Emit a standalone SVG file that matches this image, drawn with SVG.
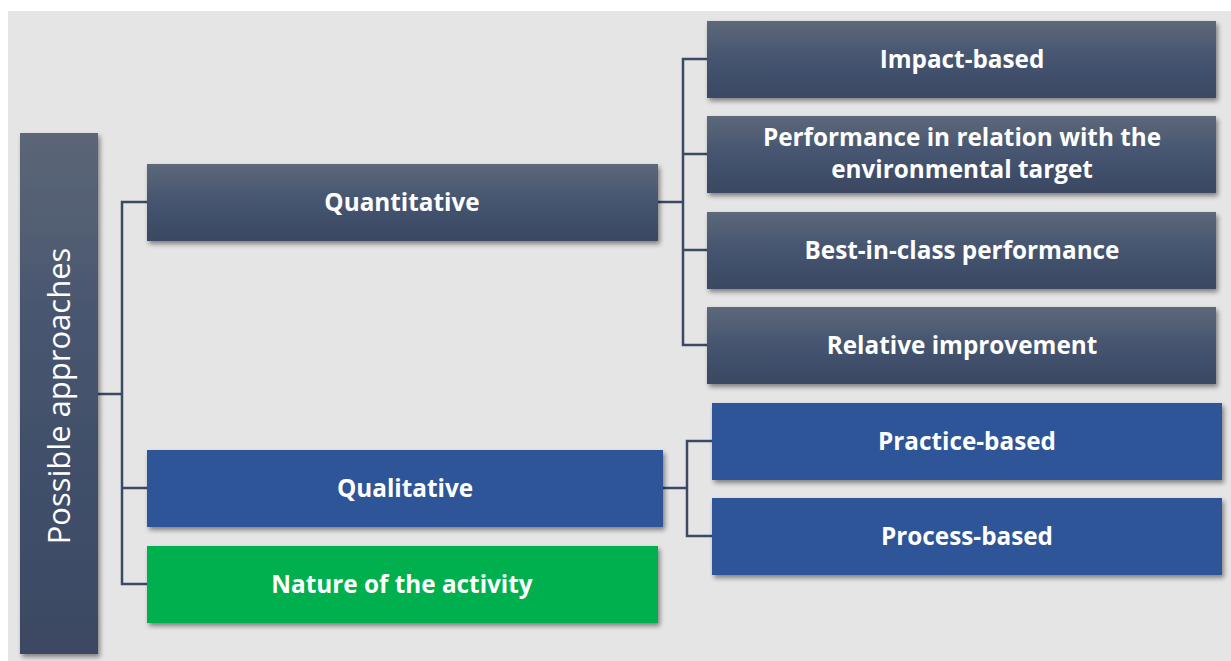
<svg xmlns="http://www.w3.org/2000/svg" width="1231" height="661" viewBox="0 0 1231 661">
<defs>
<linearGradient id="gd" x1="0" y1="0" x2="0" y2="1">
<stop offset="0" stop-color="#5D6879"/>
<stop offset="0.5" stop-color="#455470"/>
<stop offset="1" stop-color="#3A4862"/>
</linearGradient>
<linearGradient id="gbar" x1="0" y1="0" x2="0" y2="1">
<stop offset="0" stop-color="#5C6677"/>
<stop offset="0.4" stop-color="#46546E"/>
<stop offset="1" stop-color="#3B4963"/>
</linearGradient>
<filter id="sh" x="-10%" y="-20%" width="120%" height="150%">
<feGaussianBlur in="SourceAlpha" stdDeviation="2.5"/>
<feOffset dx="2" dy="3" result="b"/>
<feComponentTransfer><feFuncA type="linear" slope="0.45"/></feComponentTransfer>
<feMerge><feMergeNode/><feMergeNode in="SourceGraphic"/></feMerge>
</filter>
<style>
.dk{fill:url(#gd);filter:url(#sh)}
.bl{fill:#2E5597;filter:url(#sh)}
.gr{fill:#00B050;filter:url(#sh)}
.t{font-family:"Open Sans","Liberation Sans",sans-serif;font-weight:bold;font-size:24.3px;fill:#FFFFFF;text-anchor:middle}
.c{fill:none;stroke:#3B4963;stroke-width:2.5}
</style>
</defs>
<rect x="8" y="11" width="1223" height="650" fill="#E5E5E5"/>
<g id="connectors">
<path class="c" d="M98 394H122M147 202H122V584H147M122 488H147"/>
<path class="c" d="M658 202H683M707 59H683V345H707M683 154H707M683 250H707"/>
<path class="c" d="M663 488H687M712 441H687V536H712"/>
</g>
<g id="root">
<rect x="20" y="133" width="78" height="521" fill="url(#gbar)" filter="url(#sh)"/>
<text x="0" y="0" transform="translate(70 396) rotate(-90)" font-family="'Open Sans','Liberation Sans',sans-serif" font-size="31" font-weight="400" fill="#FFFFFF" text-anchor="middle">Possible approaches</text>
</g>
<g id="quantitative">
<rect class="dk" x="147" y="164" width="511" height="77"/>
<text class="t" x="402" y="211">Quantitative</text>
</g>
<g id="impact">
<rect class="dk" x="707" y="21" width="509" height="77"/>
<text class="t" x="962" y="68">Impact-based</text>
</g>
<g id="performance">
<rect class="dk" x="707" y="116" width="509" height="77"/>
<text class="t" x="962" y="146">Performance in relation with the</text>
<text class="t" x="962" y="178">environmental target</text>
</g>
<g id="bestinclass">
<rect class="dk" x="707" y="212" width="509" height="77"/>
<text class="t" x="962" y="259">Best-in-class performance</text>
</g>
<g id="relative">
<rect class="dk" x="707" y="307" width="509" height="77"/>
<text class="t" x="962" y="354">Relative improvement</text>
</g>
<g id="qualitative">
<rect class="bl" x="147" y="450" width="516" height="77"/>
<text class="t" x="405" y="497">Qualitative</text>
</g>
<g id="practice">
<rect class="bl" x="712" y="403" width="510" height="77"/>
<text class="t" x="967" y="450">Practice-based</text>
</g>
<g id="process">
<rect class="bl" x="712" y="498" width="510" height="77"/>
<text class="t" x="967" y="545">Process-based</text>
</g>
<g id="nature">
<rect class="gr" x="147" y="546" width="511" height="77"/>
<text class="t" x="402" y="593">Nature of the activity</text>
</g>
</svg>
